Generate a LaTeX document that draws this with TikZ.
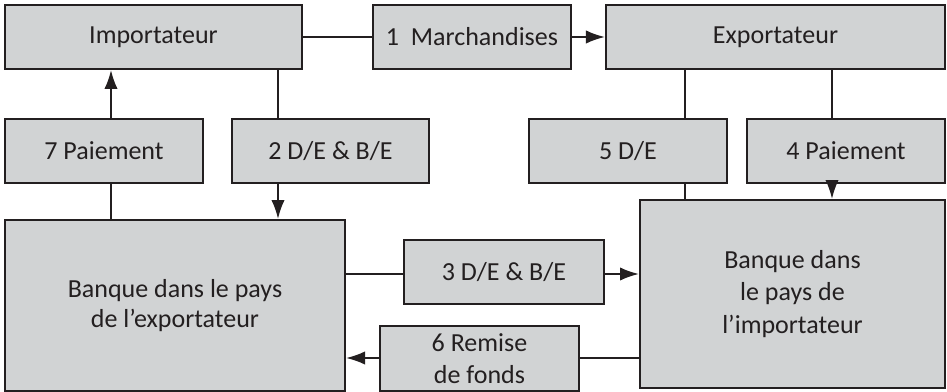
\documentclass[tikz,border=0pt]{standalone}
\usepackage{fontspec}
\setmainfont{Carlito}
\usepackage{xcolor}
\usetikzlibrary{arrows.meta}
\definecolor{boxgray}{RGB}{209,211,212}
\definecolor{inkgray}{RGB}{35,31,32}

\begin{document}
\begin{tikzpicture}[x=0.025cm,y=-0.025cm,line width=1.4pt,draw=inkgray,
    box/.style={draw=inkgray,fill=boxgray,text=inkgray,align=center,inner sep=0pt,font=\fontsize{18.5}{22}\selectfont},
    step box/.style={box,minimum width=4.95cm,minimum height=1.6cm},
    arr/.style={-{Latex[length=13.5pt,width=9.5pt]}}]
    \useasboundingbox (0,0) rectangle (947,392);

    \node[box,minimum width=7.425cm,minimum height=1.6cm] (Imp) at (153.5,37) {Importateur};
    \node[step box] (March) at (472,37) {1\ \ Marchandises};
    \node[box,minimum width=8.475cm,minimum height=1.6cm] (Exp) at (775.5,37) {Exportateur};

    \node[step box] (P7) at (104,151) {7 Paiement};
    \node[step box,minimum width=4.925cm] (DE2) at (330.5,151) {2 D/E \& B/E};
    \node[step box] (DE5) at (628,151) {5 D/E};
    \node[step box] (P4) at (846,151) {4 Paiement};

    \node[box,minimum width=8.5cm,minimum height=4.275cm,font=\fontsize{18.5}{21}\selectfont] (BExp) at (175,305.5) {Banque dans le pays\\de l’exportateur};
    \node[step box,minimum width=5cm] (DE3) at (504,272) {3 D/E \& B/E};
    \node[step box,minimum width=4.975cm,minimum height=1.625cm,font=\fontsize{18.5}{23}\selectfont] (Rem6) at (479.5,358.5) {6 Remise\\de fonds};
    \node[box,minimum width=7.625cm,minimum height=4.7cm,font=\fontsize{18.5}{23}\selectfont] (BImp) at (792.5,294) {Banque dans\\le pays de\\l’importateur};

    \coordinate (c7) at (111,0);
    \coordinate (c2) at (278,0);
    \coordinate (c5) at (685,0);
    \coordinate (c4) at (832,0);
    \coordinate (r3) at (0,274);
    \coordinate (r6) at (0,358);

    \draw (Imp) -- (March);
    \draw[arr] (March) -- (Exp);
    \draw[arr] (c7 |- P7.north) -- (c7 |- Imp.south);
    \draw (c7 |- P7.south) -- (c7 |- BExp.north);
    \draw (c2 |- Imp.south) -- (c2 |- DE2.north);
    \draw[arr] (c2 |- DE2.south) -- (c2 |- BExp.north);
    \draw (c5 |- Exp.south) -- (c5 |- DE5.north);
    \draw (c5 |- DE5.south) -- (c5 |- BImp.north);
    \draw (c4 |- Exp.south) -- (c4 |- P4.north);
    \draw[arr] (c4 |- P4.south) -- (c4 |- BImp.north);
    \draw (r3 -| BExp.east) -- (r3 -| DE3.west);
    \draw[arr] (r3 -| DE3.east) -- (r3 -| BImp.west);
    \draw (r6 -| BImp.west) -- (r6 -| Rem6.east);
    \draw[arr] (r6 -| Rem6.west) -- (r6 -| BExp.east);
\end{tikzpicture}
\end{document}
